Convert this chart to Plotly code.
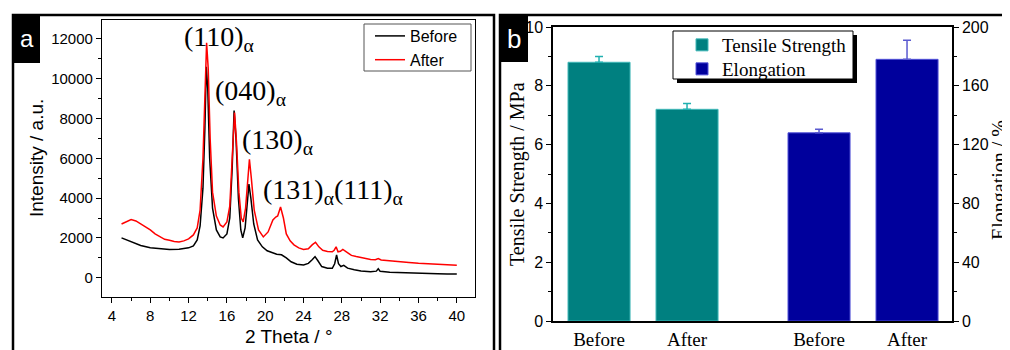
import plotly.graph_objects as go

# ---------------- data ----------------
two_theta_before = [5.0, 5.5, 6.0, 7.0, 8.0, 9.0, 10.0, 11.0, 12.0, 12.5, 12.9, 13.2, 13.5, 13.7, 13.85,
                    14.0, 14.2, 14.5, 14.9, 15.3, 15.6, 16.0, 16.3, 16.55, 16.75, 16.95, 17.2, 17.45,
                    17.65, 17.9, 18.1, 18.3, 18.5, 18.8, 19.2, 19.7, 20.2, 20.7, 21.2, 21.7, 22.2, 22.7,
                    23.3, 24.0, 24.5, 24.9, 25.2, 25.5, 25.9, 26.5, 27.0, 27.25, 27.45, 27.65, 27.9,
                    28.2, 28.6, 29.3, 30.0, 31.0, 31.6, 31.8, 32.0, 33.0, 34.0, 35.0, 36.0, 37.0, 38.0,
                    39.0, 40.0]
intensity_before = [2000, 1900, 1800, 1620, 1500, 1450, 1420, 1430, 1500, 1600, 1900, 2600, 4500, 7500, 10600,
                    9500, 6000, 3500, 2400, 2050, 2000, 2200, 3000, 5500, 8400, 7000, 4000, 2400,
                    2000, 2500, 3600, 4700, 4000, 2700, 1900, 1550, 1350, 1250, 1180, 1150, 1000, 800,
                    680, 640, 720, 900, 1060, 850, 560, 480, 470, 700, 1140, 700, 560,
                    620, 480, 400, 340, 300, 330, 450, 320, 270, 250, 240, 220, 220, 200,
                    190, 180]

two_theta_after = [5.0, 5.5, 6.0, 6.5, 7.0, 7.5, 8.0, 8.5, 9.0, 9.5, 10.0, 10.5, 11.0, 11.5, 12.0, 12.5,
                   12.9, 13.2, 13.5, 13.7, 13.88, 14.05, 14.25, 14.5, 14.9, 15.3, 15.6, 16.0, 16.3,
                   16.55, 16.8, 17.0, 17.25, 17.5, 17.7, 17.95, 18.15, 18.35, 18.55, 18.85, 19.3, 19.8,
                   20.3, 20.8, 21.1, 21.3, 21.6, 21.9, 22.2, 22.6, 23.0, 23.5, 24.0, 24.5, 24.9, 25.25,
                   25.6, 26.0, 26.5, 27.0, 27.2, 27.4, 27.6, 27.85, 28.1, 28.5, 29.0, 29.5, 30.0, 30.5,
                   31.0, 31.5, 31.8, 32.1, 33.0, 34.0, 35.0, 36.0, 37.0, 38.0, 39.0, 40.0]
intensity_after = [2700, 2820, 2920, 2850, 2700, 2520, 2400, 2200, 2050, 1930, 1880, 1820, 1800, 1850, 1950, 2150,
                   2500, 3400, 6000, 9500, 11800, 10500, 7000, 4300, 3100, 2650, 2550, 2800, 3600,
                   6000, 8300, 6800, 4300, 3000, 2800, 3500, 4800, 5950, 5000, 3400, 2400, 2050,
                   2300, 2900, 3050, 3100, 3550, 3000, 2200, 1850, 1650, 1500, 1420, 1450, 1650, 1780,
                   1550, 1380, 1320, 1300, 1380, 1550, 1300, 1330, 1420, 1300, 1120, 1060, 1010, 960,
                   920, 900, 960, 890, 860, 800, 760, 720, 690, 660, 640, 620]

peak_labels = ["(110)<sub>α</sub>", "(040)<sub>α</sub>", "(130)<sub>α</sub>",
               "(131)<sub>α</sub>(111)<sub>α</sub>"]

bar_categories = ["Before", "After"]
tensile_strength = [8.8, 7.2]
tensile_err = [0.2, 0.2]
elongation = [128, 178]
elongation_err = [2.5, 13]

# ---------------- layout helpers ----------------
W, H = 1010, 350
OFF = 8  # page body margin of the html page
def px(x):
    return (x - OFF) / W
def py(y):
    return 1 - (y - OFF) / H

SANS = "Liberation Sans, Arial, sans-serif"
SERIF = "Liberation Serif, Times New Roman, serif"
TEAL = "#008080"
NAVY = "#00009c"

fig = go.Figure()

fig.add_trace(go.Scatter(x=two_theta_before, y=intensity_before, mode="lines", name="Before",
                         line=dict(color="black", width=1.5), xaxis="x", yaxis="y", legend="legend"))
fig.add_trace(go.Scatter(x=two_theta_after, y=intensity_after, mode="lines", name="After",
                         line=dict(color="#ff0000", width=1.5), xaxis="x", yaxis="y", legend="legend"))

ts_pos = [i for i in range(len(bar_categories))]
el_pos = [i + 2.5 for i in range(len(bar_categories))]
bar_w = 0.705

fig.add_trace(go.Bar(x=ts_pos, y=tensile_strength, width=bar_w, name="Tensile Strength",
                     marker=dict(color=TEAL, line=dict(color="#40b8b8", width=1)),
                     error_y=dict(type="data", array=tensile_err, arrayminus=[0] * len(tensile_err),
                                  symmetric=False, color="#20b0b0", thickness=1.5, width=4),
                     xaxis="x2", yaxis="y2", legend="legend2"))
fig.add_trace(go.Bar(x=el_pos, y=elongation, width=bar_w, name="Elongation",
                     marker=dict(color=NAVY, line=dict(color="#5050d8", width=1)),
                     error_y=dict(type="data", array=elongation_err, arrayminus=[0] * len(elongation_err),
                                  symmetric=False, color="#5a5ad0", thickness=1.5, width=4),
                     xaxis="x2", yaxis="y3", legend="legend3"))

axis_common = dict(showline=True, linecolor="black", linewidth=1.2, showgrid=False, zeroline=False,
                   ticks="outside", ticklen=5, tickwidth=1.2, tickcolor="black")

fig.update_layout(
    width=W, height=H, margin=dict(l=0, r=0, t=0, b=0, autoexpand=False),
    paper_bgcolor="white", plot_bgcolor="white",
    barmode="overlay", showlegend=True,
    xaxis=dict(domain=[px(102), px(475)], anchor="y", range=[2.96, 41.9], mirror=True,
               tickvals=list(range(4, 41, 4)), tickformat="d",
               minor=dict(tickvals=list(range(6, 41, 4)), ticks="outside", ticklen=3, tickcolor="black"),
               tickfont=dict(family=SANS, size=15, color="black"), **axis_common),
    yaxis=dict(domain=[py(297), py(20)], anchor="x", range=[-970, 12950], mirror=True,
               tickvals=list(range(0, 12001, 2000)), tickformat="d",
               minor=dict(tickvals=list(range(1000, 13000, 2000)), ticks="outside", ticklen=3, tickcolor="black"),
               tickfont=dict(family=SANS, size=15, color="black"), **axis_common),
    xaxis2=dict(domain=[px(553), px(952)], anchor="y2", range=[-0.523, 4.011], mirror=True,
                showline=True, linecolor="black", linewidth=1.5, showgrid=False, zeroline=False,
                ticks="", tickvals=ts_pos + el_pos, ticktext=bar_categories + bar_categories,
                tickfont=dict(family=SERIF, size=19, color="black")),
    yaxis2=dict(domain=[py(321), py(27)], anchor="x2", range=[0, 10], tickvals=list(range(0, 11, 2)),
                minor=dict(tickvals=list(range(1, 10, 2)), ticks="outside", ticklen=3, tickcolor="black"),
                tickfont=dict(family=SANS, size=16, color="black"),
                **{**axis_common, "linewidth": 1.5}),
    yaxis3=dict(domain=[py(321), py(27)], anchor="x2", overlaying="y2", side="right", range=[0, 200],
                tickvals=list(range(0, 201, 40)),
                minor=dict(tickvals=list(range(20, 200, 40)), ticks="outside", ticklen=3, tickcolor="black"),
                tickfont=dict(family=SANS, size=16, color="black"),
                **{**axis_common, "linewidth": 1.5}),
    legend=dict(x=px(370), y=py(19), xanchor="left", yanchor="top", bgcolor="rgba(0,0,0,0)",
                borderwidth=0, font=dict(family=SANS, size=16, color="black"),
                tracegroupgap=0, itemwidth=30),
    legend2=dict(x=px(682), y=py(26), xanchor="left", yanchor="top", bgcolor="rgba(0,0,0,0)",
                 borderwidth=0, font=dict(family=SERIF, size=19, color="black")),
    legend3=dict(x=px(682), y=py(50), xanchor="left", yanchor="top", bgcolor="rgba(0,0,0,0)",
                 borderwidth=0, font=dict(family=SERIF, size=19, color="black")),
)

shapes = [
    # panel frames
    dict(type="rect", xref="paper", yref="paper", x0=px(13), x1=px(494), y0=py(365), y1=py(15),
         line=dict(color="black", width=2.5), layer="above"),
    dict(type="rect", xref="paper", yref="paper", x0=px(500), x1=px(1025), y0=py(365), y1=py(15),
         line=dict(color="black", width=2.5), layer="above"),
    # label boxes
    dict(type="rect", xref="paper", yref="paper", x0=px(13), x1=px(40), y0=py(63), y1=py(15),
         fillcolor="black", line=dict(width=0), layer="above"),
    dict(type="rect", xref="paper", yref="paper", x0=px(500), x1=px(528), y0=py(62), y1=py(15),
         fillcolor="black", line=dict(width=0), layer="above"),
    # legend box panel a
    dict(type="rect", xref="paper", yref="paper", x0=px(364), x1=px(471), y0=py(71), y1=py(24),
         fillcolor="white", line=dict(color="#555555", width=1), layer="above"),
    # legend shadow + box panel b
    dict(type="rect", xref="paper", yref="paper", x0=px(677), x1=px(857), y0=py(83), y1=py(35),
         fillcolor="black", line=dict(width=0), layer="above"),
    dict(type="rect", xref="paper", yref="paper", x0=px(673), x1=px(853), y0=py(79), y1=py(31),
         fillcolor="white", line=dict(color="black", width=1), layer="above"),
]

def ann(text, x, y, size, family, color="black", angle=0, xanchor="center", yanchor="middle"):
    return dict(text=text, x=px(x), y=py(y), xref="paper", yref="paper", showarrow=False,
                xanchor=xanchor, yanchor=yanchor, textangle=angle,
                font=dict(family=family, size=size, color=color))

annotations = [
    ann("a", 26.5, 39, 24, SANS, color="white"),
    ann("b", 514, 39, 26, SANS, color="white"),
    ann("Intensity / a.u.", 36, 158, 19, SANS, angle=-90),
    ann("2 Theta / °", 289, 336, 19, SANS),
    ann("Tensile Strength / MPa", 517, 174, 20, SERIF, angle=-90),
    ann("Elongation / %", 999, 180, 20, SERIF, angle=-90),
]
label_pos = [(182, 38), (213, 92), (240, 142), (261, 191)]
for lab, (lx, ly) in zip(peak_labels, label_pos):
    annotations.append(ann(lab, lx, ly, 28, SERIF, xanchor="left"))

fig.update_layout(shapes=shapes, annotations=annotations)

fig.write_html("out.html")
